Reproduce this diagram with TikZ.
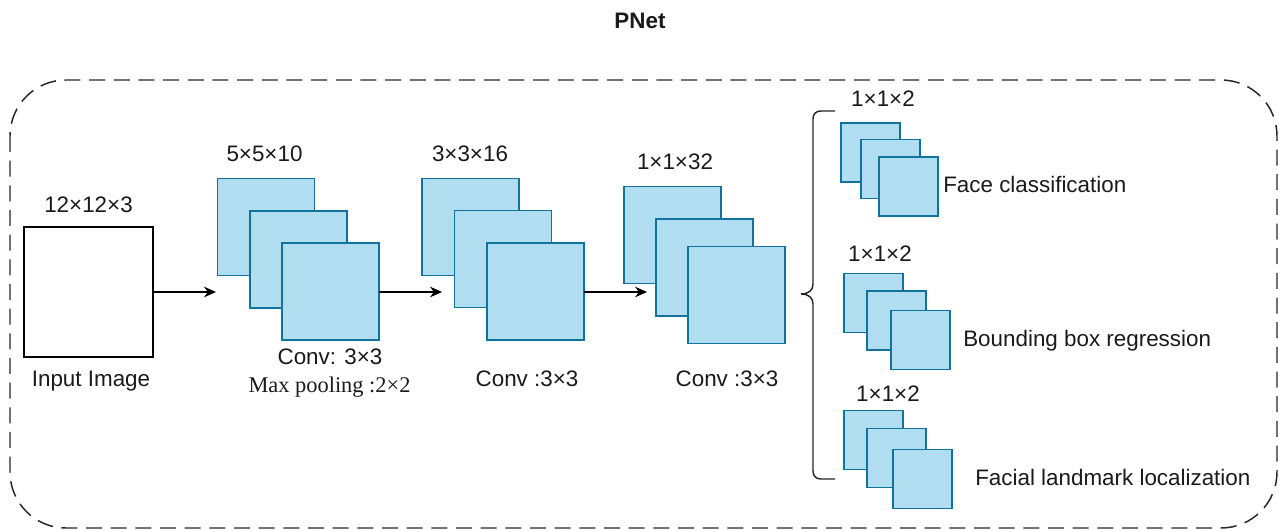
\documentclass[tikz,border=0pt]{standalone}
\usepackage{fontspec}
\setmainfont{Liberation Sans}
\newfontfamily\serifl{Liberation Serif}
\usetikzlibrary{arrows.meta}
\definecolor{fmfill}{HTML}{B1DDF0}
\definecolor{fmdraw}{HTML}{10739E}
\definecolor{txt}{HTML}{1A1A1A}
\tikzset{
  fm/.style={draw=fmdraw, fill=fmfill, line width=1.1pt, inner sep=0pt, outer sep=0pt, minimum width=72.75pt, minimum height=72.75pt},
  fms/.style={fm, minimum width=44.25pt, minimum height=44.25pt},
  inbox/.style={draw=black, fill=white, line width=1.1pt, inner sep=0pt, outer sep=0pt, minimum width=96.75pt, minimum height=97.5pt},
  lbl/.style={inner sep=0pt, anchor=base, text=txt, font=\fontsize{16.8}{20}\selectfont},
  lbll/.style={lbl, anchor=base west},
  arr/.style={draw=black, line width=0.9pt, -{Stealth[length=9pt,width=8pt]}},
  frame/.style={draw=black!85, line width=1.1pt, dash pattern=on 12pt off 6.5pt, rounded corners=42pt},
  bracel/.style={draw=black!85, line width=1.1pt},
}
\begin{document}
\begin{tikzpicture}[x=0.75pt,y=-0.75pt]
\useasboundingbox (0,0) rectangle (1279,530);
\path[frame] (10,80) rectangle (1277,528);
\node[lbl, font=\fontsize{16.8}{20}\selectfont\bfseries] (title) at (640,29) {PNet};
% input
\node[inbox] (in) at (88.5,292) {};
\node[lbl] (inlbl) at (88.5,213) {12×12×3};
\node[lbl] (incap) at (91,387) {Input Image};
% stack 1
\node[fm] (s1a) at (266,227) {};
\node[fm] (s1b) at (298.5,259.5) {};
\node[fm] (s1c) at (330.5,291.5) {};
\node[lbl] (s1lbl) at (264.5,162) {5×5×10};
\node[lbl] (s1cap1) at (330,365) {Conv: 3×3};
\node[lbl, font=\fontsize{16.8}{20}\selectfont\serifl] (s1cap2) at (329.5,393) {Max pooling :2×2};
% stack 2
\node[fm] (s2a) at (470.5,227) {};
\node[fm] (s2b) at (503,259) {};
\node[fm] (s2c) at (535.5,291.5) {};
\node[lbl] (s2lbl) at (470,162) {3×3×16};
\node[lbl] (s2cap) at (527,387) {Conv :3×3};
% stack 3
\node[fm] (s3a) at (672.5,235) {};
\node[fm] (s3b) at (704.5,267.5) {};
\node[fm] (s3c) at (736.5,295) {};
\node[lbl] (s3lbl) at (675,170) {1×1×32};
\node[lbl] (s3cap) at (727,387) {Conv :3×3};
% arrows
\coordinate (t1) at (216,292);
\coordinate (t2) at (442,292);
\coordinate (t3) at (647,292);
\draw[arr] (in.east |- t1) -- (t1);
\draw[arr] (s1c.east |- t2) -- (t2);
\draw[arr] (s2c.east |- t3) -- (t3);
% brace
\draw[bracel] (835,111) -- (821,111) .. controls (816,111) and (813,114) .. (813,119)
  -- (813,284) .. controls (813,290) and (809,294) .. (801,294)
  .. controls (809,294) and (813,298) .. (813,304)
  -- (813,471) .. controls (813,476) and (816,479) .. (821,479) -- (835,479);
% output group 1
\node[fms] (o1a) at (870.5,152.5) {};
\node[fms] (o1b) at (890.5,169) {};
\node[fms] (o1c) at (908.5,186.5) {};
\node[lbl] (o1lbl) at (883,107) {1×1×2};
\node[lbll] (o1cap) at (943,193) {Face classification};
% output group 2
\node[fms] (o2a) at (873.5,303) {};
\node[fms] (o2b) at (896.5,320.5) {};
\node[fms] (o2c) at (920.5,340) {};
\node[lbl] (o2lbl) at (880,262) {1×1×2};
\node[lbll] (o2cap) at (963,347) {Bounding box regression};
% output group 3
\node[fms] (o3a) at (873.5,440) {};
\node[fms] (o3b) at (896.5,458) {};
\node[fms] (o3c) at (922.5,479) {};
\node[lbl] (o3lbl) at (888,402) {1×1×2};
\node[lbll] (o3cap) at (975,486) {Facial landmark localization};
\end{tikzpicture}
\end{document}
